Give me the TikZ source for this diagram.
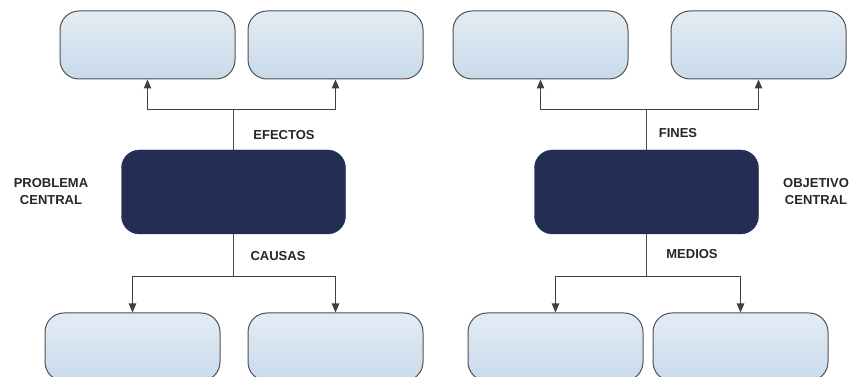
\documentclass[tikz,border=0pt]{standalone}
\usepackage{fontspec}
\setmainfont{Liberation Sans}
\usetikzlibrary{arrows.meta}
\definecolor{navy}{HTML}{222E55}
\definecolor{cielo}{HTML}{E3ECF4}
\definecolor{cielob}{HTML}{C8DAEA}
\definecolor{trazo}{HTML}{505050}
\begin{document}
\begin{tikzpicture}[x=1pt, y=1pt,
    caja/.style={draw=trazo, line width=1pt, rounded corners=19pt, top color=cielo, bottom color=cielob, minimum width=175pt, minimum height=68pt, inner sep=0pt},
    central/.style={fill=navy, draw=navy!80!black, rounded corners=18pt, minimum width=224pt, minimum height=84pt, inner sep=0pt},
    etiqueta/.style={font=\fontsize{13}{17}\selectfont\bfseries, text=black!85, align=center, inner sep=0pt},
    flecha/.style={draw=trazo!80!black, line width=1.1pt, -{Triangle[width=7.5pt,length=9pt]}}]
    \useasboundingbox (0,0) rectangle (851,377);
    \clip (0,0) rectangle (851,377);
    \def \ya {332}
    \def \yb {30}
    % arbol de problemas
    \node[caja] (e1) at (147.5, \ya) {};
    \node[caja] (e2) at (335.5, \ya) {};
    \node[central] (pc) at (233.5, 185) {};
    \node[caja] (c1) at (132.5, \yb) {};
    \node[caja] (c2) at (335.5, \yb) {};
    \node[etiqueta] (efectos) at (284, 242) {EFECTOS};
    \node[etiqueta] (causas) at (278, 121) {CAUSAS};
    \node[etiqueta] (problema) at (51, 185) {PROBLEMA\\CENTRAL};
    \coordinate (je) at (233.5, 267.5);
    \coordinate (jc) at (233.5, 100.5);
    \draw[trazo, line width=1.1pt] (pc.north) -- (je);
    \draw[flecha] (je) -| (e1.south);
    \draw[flecha] (je) -| (e2.south);
    \draw[trazo, line width=1.1pt] (pc.south) -- (jc);
    \draw[flecha] (jc) -| (c1.north);
    \draw[flecha] (jc) -| (c2.north);
    % arbol de objetivos
    \node[caja] (f1) at (540.5, \ya) {};
    \node[caja] (f2) at (758.5, \ya) {};
    \node[central] (oc) at (646.5, 185) {};
    \node[caja] (m1) at (555.5, \yb) {};
    \node[caja] (m2) at (740.5, \yb) {};
    \node[etiqueta] (fines) at (678, 244) {FINES};
    \node[etiqueta] (medios) at (692, 123) {MEDIOS};
    \node[etiqueta] (objetivo) at (816, 185) {OBJETIVO\\CENTRAL};
    \coordinate (jf) at (646.5, 267.5);
    \coordinate (jm) at (646.5, 100.5);
    \draw[trazo, line width=1.1pt] (oc.north) -- (jf);
    \draw[flecha] (jf) -| (f1.south);
    \draw[flecha] (jf) -| (f2.south);
    \draw[trazo, line width=1.1pt] (oc.south) -- (jm);
    \draw[flecha] (jm) -| (m1.north);
    \draw[flecha] (jm) -| (m2.north);
\end{tikzpicture}
\end{document}
